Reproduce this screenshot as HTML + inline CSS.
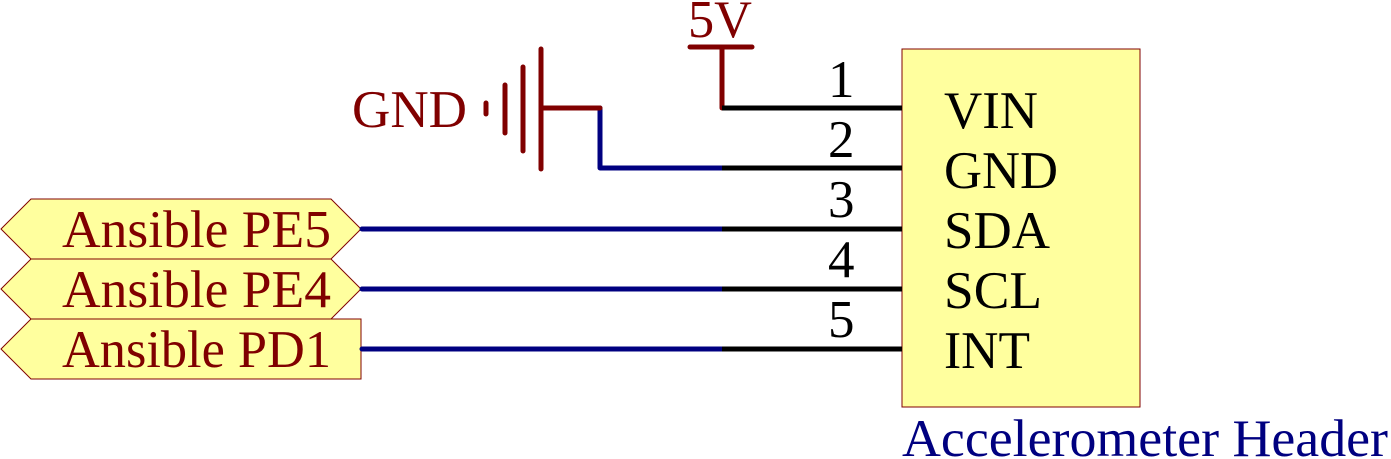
<!DOCTYPE html>
<html><head><style>body{margin:0;background:#fff}svg{display:block}</style></head><body>
<svg width="1391" height="459" xmlns="http://www.w3.org/2000/svg" font-family="'Liberation Serif',serif">
<rect x="902" y="49" width="238" height="358" fill="#ffff9e" stroke="#800000" stroke-width="1"/>
<g fill="#ffff9e" stroke="#800000" stroke-width="1">
<polygon points="1,229 31,199 331,199 361,229 331,259 31,259"/>
<polygon points="1,289 31,259 331,259 361,289 331,319 31,319"/>
<polygon points="1,349 31,319 361,319 361,379 31,379"/>
</g>
<g font-size="53" fill="#800000">
<text x="62" y="247" textLength="269" lengthAdjust="spacingAndGlyphs">Ansible PE5</text>
<text x="62" y="307" textLength="269" lengthAdjust="spacingAndGlyphs">Ansible PE4</text>
<text x="62" y="367" textLength="269" lengthAdjust="spacingAndGlyphs">Ansible PD1</text>
<text x="352" y="127" textLength="115" lengthAdjust="spacingAndGlyphs">GND</text>
<text x="688" y="37" textLength="64" lengthAdjust="spacingAndGlyphs">5V</text>
</g>
<g stroke="#000080" stroke-width="5" fill="none" stroke-linecap="round" stroke-linejoin="round">
<polyline points="600,108 600,168 722,168"/>
<line x1="362" y1="229" x2="722" y2="229"/>
<line x1="362" y1="289" x2="722" y2="289"/>
<line x1="362" y1="349" x2="722" y2="349"/>
</g>
<g stroke="#800000" stroke-width="5" stroke-linecap="round">
<line x1="486" y1="103" x2="486" y2="114"/>
<line x1="505" y1="85" x2="505" y2="133"/>
<line x1="523" y1="67" x2="523" y2="151"/>
<line x1="541" y1="49" x2="541" y2="169"/>
<line x1="541" y1="108" x2="600" y2="108"/>
<line x1="690" y1="47" x2="752" y2="47"/>
<line x1="722" y1="47" x2="722" y2="108"/>
</g>
<g stroke="#000" stroke-width="5">
<line x1="722" y1="108" x2="902" y2="108"/>
<line x1="722" y1="168" x2="902" y2="168"/>
<line x1="722" y1="229" x2="902" y2="229"/>
<line x1="722" y1="289" x2="902" y2="289"/>
<line x1="722" y1="349" x2="902" y2="349"/>
</g>
<g font-size="53" fill="#000">
<text x="828" y="97">1</text>
<text x="828" y="157">2</text>
<text x="828" y="217">3</text>
<text x="828" y="277">4</text>
<text x="828" y="337">5</text>
<text x="944" y="128" textLength="94" lengthAdjust="spacingAndGlyphs">VIN</text>
<text x="944" y="188" textLength="114" lengthAdjust="spacingAndGlyphs">GND</text>
<text x="944" y="248" textLength="106" lengthAdjust="spacingAndGlyphs">SDA</text>
<text x="944" y="308" textLength="98" lengthAdjust="spacingAndGlyphs">SCL</text>
<text x="944" y="368" textLength="86" lengthAdjust="spacingAndGlyphs">INT</text>
</g>
<text x="902" y="456" font-size="53" fill="#000080" textLength="486" lengthAdjust="spacingAndGlyphs">Accelerometer Header</text>
</svg>
</body></html>
